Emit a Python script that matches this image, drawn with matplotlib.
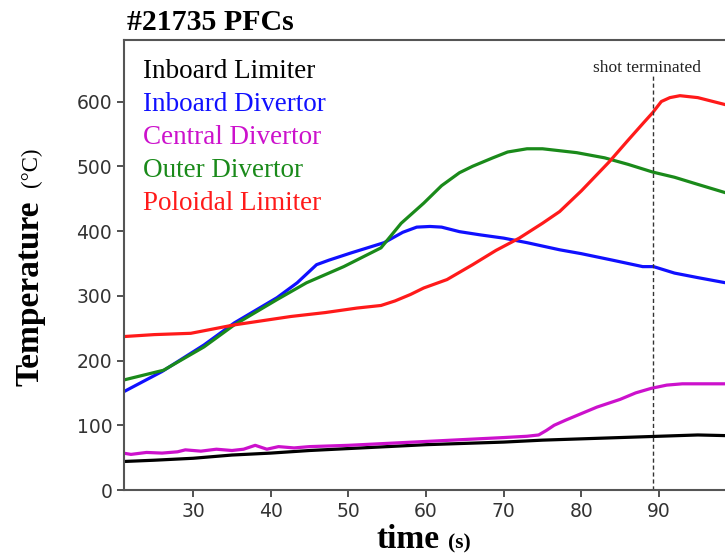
import matplotlib
matplotlib.use("Agg")
import matplotlib.pyplot as plt

# ---- data ----
t_black = [21, 25, 30, 35, 40, 45, 50, 55, 60, 65, 70, 75, 80, 85, 90, 95, 98.6]
inboard_limiter = [44, 46, 49, 54, 57, 61, 64, 67, 70, 72, 74, 77, 79, 81, 83, 85, 84]

t_mag = [21, 22, 24, 26, 28, 29, 31, 33, 35, 36.5, 38, 39.5, 41, 43, 45, 50, 55, 60, 65, 70, 73,
         74.5, 75.5, 76.5, 78, 80, 82, 85, 87, 89, 91, 93, 95, 98.6]
central_divertor = [57, 55, 58, 57, 59, 62, 60, 63, 61, 63, 69, 63, 67, 65, 67, 69, 72, 75, 78, 81, 83,
                    85, 92, 100, 108, 118, 128, 140, 150, 157, 162, 164, 164, 164]

t_blue = [21.1, 26, 31.4, 35.3, 40.8, 43.4, 45.9, 47.5, 50.3, 54.6, 57, 58.8, 60.5, 62, 64.3, 67,
          70, 73, 77.2, 80, 84, 87.9, 89.3, 92, 95, 98.6]
inboard_divertor = [152, 183, 224, 258, 297, 320, 348, 355, 366, 382, 398, 406, 407, 406, 399, 394,
                    389, 382, 371, 365, 355, 345, 345, 335, 328, 320]

t_green = [21.1, 26.2, 31.4, 35.3, 40.8, 44.6, 49.4, 54.2, 56.8, 59.7, 62, 64.3, 66, 68.6, 70.5,
           73, 75, 79.4, 83, 86, 89.2, 92, 95, 98.6]
outer_divertor = [170, 185, 221, 255, 294, 320, 345, 374, 412, 443, 470, 490, 500, 513, 522,
                  527, 527, 521, 513, 503, 491, 483, 472, 459]

t_red = [21.1, 25, 29.7, 35.3, 42.6, 47, 51.1, 54.2, 56, 58, 59.7, 62.7, 66, 69, 72, 75, 77.2, 80,
         83.6, 86, 88, 89.2, 90.3, 91.4, 92.7, 95, 98.6]
poloidal_limiter = [237, 240, 242, 255, 268, 274, 281, 285, 292, 302, 312, 325, 348, 370, 389, 412,
                    430, 462, 507, 540, 567, 583, 600, 606, 609, 606, 595]

labels = ["Inboard Limiter", "Inboard Divertor", "Central Divertor", "Outer Divertor", "Poloidal Limiter"]
colors = ["black", "#1010ff", "#cc11cc", "#1a8a1a", "#ff1a1a"]
shot_end = 89.2

serif = ["Liberation Serif", "DejaVu Serif"]

fig = plt.figure(figsize=(7.25, 5.59), dpi=100)
ax = fig.add_axes([124 / 725, 69 / 559, 601 / 725, 450 / 559])

series = [(t_black, inboard_limiter), (t_blue, inboard_divertor), (t_mag, central_divertor),
          (t_green, outer_divertor), (t_red, poloidal_limiter)]
for (t, v), lab, c in zip(series, labels, colors):
    ax.plot(t, v, color=c, linewidth=2.3, label=lab)

ax.axvline(shot_end, ymin=0, ymax=0.925, color="#333333", linestyle=(0, (3, 2)), linewidth=1.0)
ax.text(shot_end - 0.7, 640, "shot terminated", family=serif, fontsize=12.5, color="#222222",
        ha="center", va="bottom")

ax.set_xlim(21.1, 98.5)
ax.set_ylim(0, 695)
ax.set_xticks([30, 40, 50, 60, 70, 80, 90])
ax.set_yticks([0, 100, 200, 300, 400, 500, 600])
ax.tick_params(labelsize=13.5, colors="#333333", length=5, width=1.2)
for s in ["left", "bottom", "top"]:
    ax.spines[s].set_color("#555555")
    ax.spines[s].set_linewidth(1.5)
ax.spines["right"].set_visible(False)

leg = ax.legend(loc="upper left", frameon=False, handlelength=0, handletextpad=0,
                labelcolor="linecolor", prop={"family": serif, "size": 19.5},
                labelspacing=0.3, borderaxespad=0.3, bbox_to_anchor=(0.0, 1.0))
for h in leg.legend_handles:
    h.set_visible(False)

ax.set_title("#21735 PFCs", loc="left", family=serif, fontweight="bold", fontsize=21.5, pad=7,
             x=0.005)

# axis labels: big bold word + smaller unit
fig.text(408 / 725, 1 - 540 / 559, "time", family=serif, fontweight="bold", fontsize=24,
         ha="center", va="center")
fig.text(459 / 725, 1 - 543 / 559, "(s)", family=serif, fontweight="bold", fontsize=15.5,
         ha="center", va="center")
fig.text(30 / 725, 1 - 293 / 559, "Temperature", family=serif, fontweight="bold", fontsize=24,
         rotation=90, ha="center", va="center")
fig.text(31 / 725, 1 - 167 / 559, "(°C)", family=serif, fontsize=16.5,
         rotation=90, ha="center", va="center")

fig.savefig("out.png", dpi=100)
